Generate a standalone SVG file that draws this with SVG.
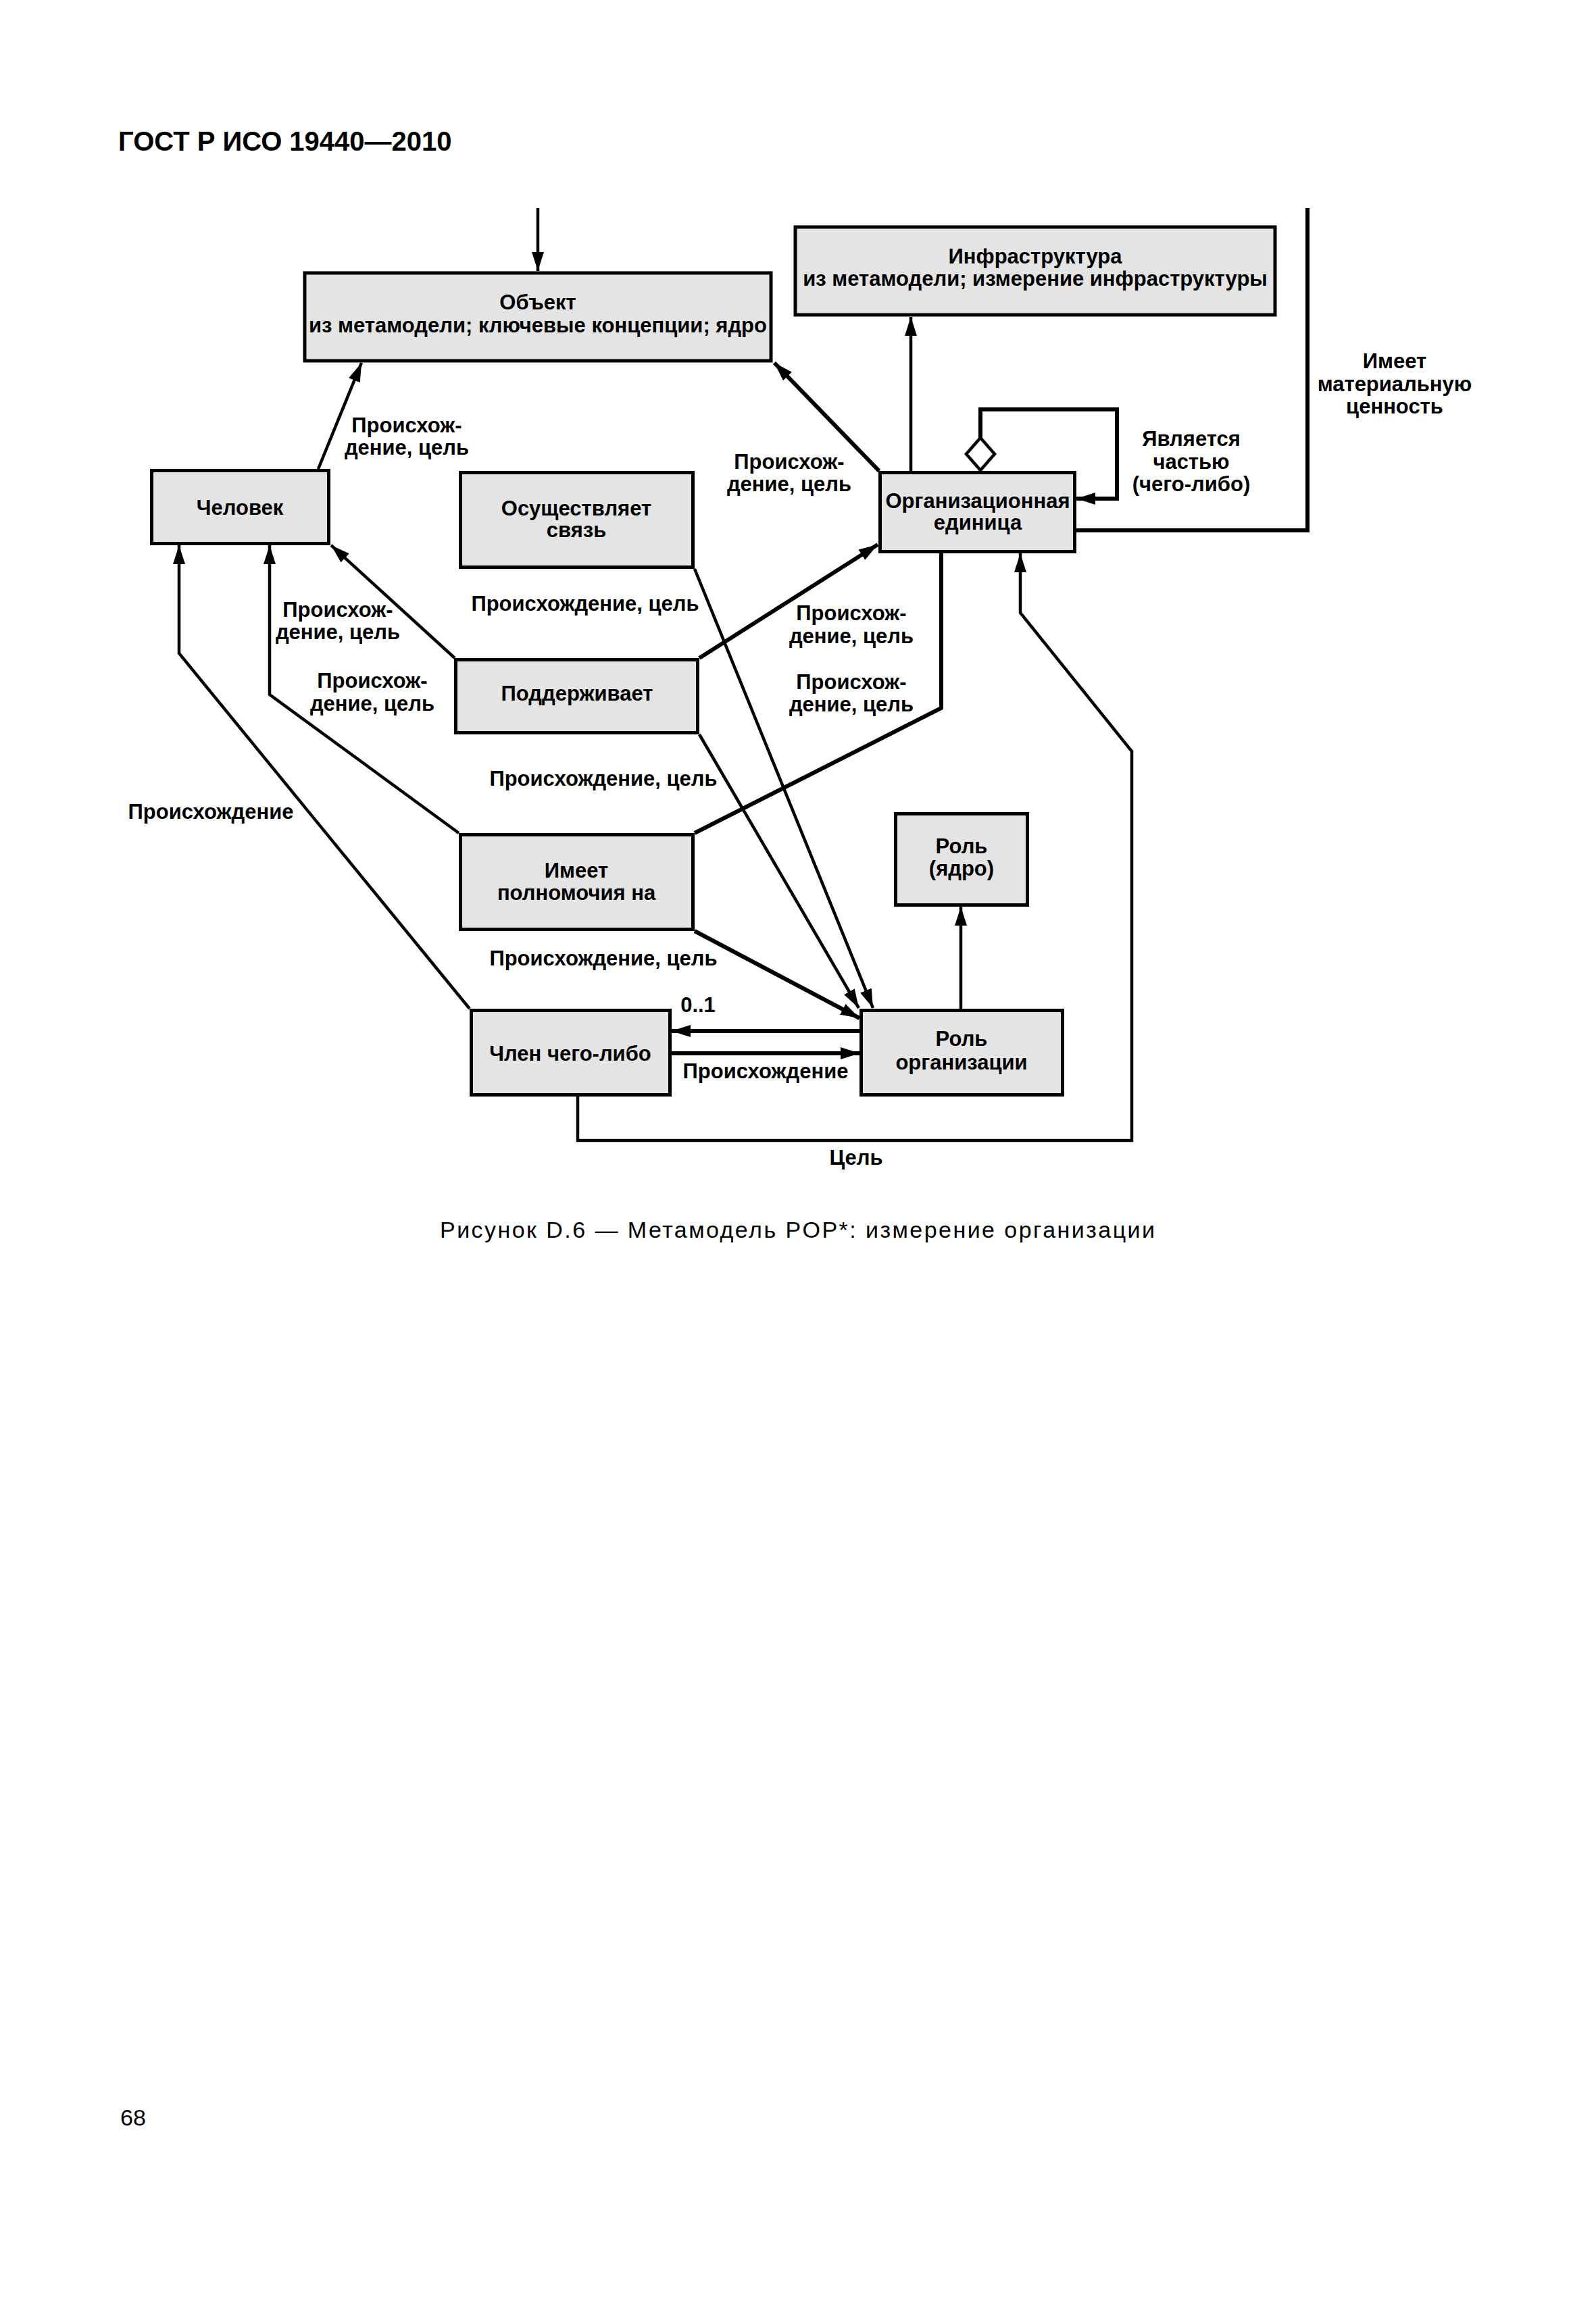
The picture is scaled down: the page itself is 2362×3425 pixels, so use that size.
<svg xmlns="http://www.w3.org/2000/svg" width="2362" height="3425" viewBox="0 0 2362 3425">
<style>
text{font-family:"Liberation Sans",Arial,sans-serif;fill:#000}
.n{fill:#e4e4e4;stroke:#000;stroke-width:5}
.l{font-size:31px;font-weight:bold;text-anchor:middle}
.c{fill:none;stroke:#000;stroke-width:4.5;stroke-linejoin:miter}
.t{fill:none;stroke:#000;stroke-width:6;stroke-linejoin:miter}
.m{marker-end:url(#a)}
</style>
<defs>
<marker id="a" markerUnits="userSpaceOnUse" markerWidth="30" markerHeight="20" viewBox="0 0 30 20" refX="28" refY="10" orient="auto"><path d="M0,1 L28,10 L0,19 Z" fill="#000"/></marker>
</defs>
<rect width="2362" height="3425" fill="#fff"/>
<text x="175" y="223" font-size="40" font-weight="bold" fill="#1a1a1a">ГОСТ Р ИСО 19440—2010</text>

<g id="connectors">
<path class="c m" d="M796,308 L796,401"/>
<path class="c m" d="M471,694 L535,537"/>
<path class="t m" d="M1301,697 L1146,537"/>
<path class="c m" d="M1348,697 L1348,469"/>
<path class="t" d="M1935,308 L1935,785 L1593,785"/>
<path class="t m" d="M1451,648 L1451,606 L1653,606 L1653,738 L1593,738"/>
<polygon points="1451,648 1472,672 1451,696 1430,672" fill="#fff" stroke="#000" stroke-width="4.5"/>
<path class="c m" d="M673,974 L490,807"/>
<path class="c m" d="M695,1493 L265,967 L265,807"/>
<path class="c m" d="M679,1233 L399,1028 L399,807"/>
<path class="t m" d="M1035,974 L1299,806"/>
<path class="c m" d="M1035,1087 L1271,1492"/>
<path class="c m" d="M1028,842 L1292,1492"/>
<path class="t" d="M1028,1233 L1393,1048 L1393,819"/>
<path class="t m" d="M1028,1378 L1272,1507"/>
<path class="c m" d="M855,1623 L855,1688 L1675,1688 L1675,1112 L1510,907 L1510,819"/>
<path class="t m" d="M1272,1526 L994,1526"/>
<path class="t m" d="M994,1559 L1272,1559"/>
<path class="c m" d="M1422,1493 L1422,1342"/>
</g>

<g id="n-object">
<rect class="n" x="451" y="404" width="690" height="130" stroke-width="6"/>
<text class="l" x="796" y="458">Объект</text>
<text class="l" x="796" y="492">из метамодели; ключевые концепции; ядро</text>
</g>
<g id="n-infra">
<rect class="n" x="1177" y="336" width="710" height="130" stroke-width="6"/>
<text class="l" x="1532" y="390">Инфраструктура</text>
<text class="l" x="1532" y="423">из метамодели; измерение инфраструктуры</text>
</g>
<g id="n-person">
<rect class="n" x="224.5" y="696.5" width="262" height="108"/>
<text class="l" x="355" y="762">Человек</text>
</g>
<g id="n-communicates">
<rect class="n" x="681.5" y="699.5" width="344" height="140"/>
<text class="l" x="853" y="763">Осуществляет</text>
<text class="l" x="853" y="795">связь</text>
</g>
<g id="n-orgunit">
<rect class="n" x="1302.5" y="699.5" width="288" height="117"/>
<text class="l" x="1447" y="752">Организационная</text>
<text class="l" x="1447" y="784">единица</text>
</g>
<g id="n-supports">
<rect class="n" x="674.5" y="976.5" width="358" height="108"/>
<text class="l" x="854" y="1037">Поддерживает</text>
</g>
<g id="n-authority">
<rect class="n" x="681.5" y="1235.5" width="344" height="140"/>
<text class="l" x="853" y="1299">Имеет</text>
<text class="l" x="853" y="1332">полномочия на</text>
</g>
<g id="n-role-core">
<rect class="n" x="1325.5" y="1204.5" width="195" height="135"/>
<text class="l" x="1423" y="1263">Роль</text>
<text class="l" x="1423" y="1296">(ядро)</text>
</g>
<g id="n-member">
<rect class="n" x="697.5" y="1495.5" width="294" height="125"/>
<text class="l" x="844" y="1570">Член чего-либо</text>
</g>
<g id="n-org-role">
<rect class="n" x="1274.5" y="1495.5" width="298" height="125"/>
<text class="l" x="1423" y="1548">Роль</text>
<text class="l" x="1423" y="1583">организации</text>
</g>

<g id="labels">
<text class="l" x="602" y="640">Происхож-</text>
<text class="l" x="602" y="673">дение, цель</text>
<text class="l" x="1168" y="694">Происхож-</text>
<text class="l" x="1168" y="727">дение, цель</text>
<text class="l" x="2064" y="545">Имеет</text>
<text class="l" x="2064" y="579">материальную</text>
<text class="l" x="2064" y="612">ценность</text>
<text class="l" x="1763" y="660">Является</text>
<text class="l" x="1763" y="694">частью</text>
<text class="l" x="1763" y="727">(чего-либо)</text>
<text class="l" x="866" y="904">Происхождение, цель</text>
<text class="l" x="500" y="913">Происхож-</text>
<text class="l" x="500" y="946">дение, цель</text>
<text class="l" x="551" y="1018">Происхож-</text>
<text class="l" x="551" y="1052">дение, цель</text>
<text class="l" x="1260" y="918">Происхож-</text>
<text class="l" x="1260" y="952">дение, цель</text>
<text class="l" x="1260" y="1020">Происхож-</text>
<text class="l" x="1260" y="1053">дение, цель</text>
<text class="l" x="893" y="1163">Происхождение, цель</text>
<text class="l" x="312" y="1212">Происхождение</text>
<text class="l" x="893" y="1429">Происхождение, цель</text>
<text class="l" x="1033" y="1498">0..1</text>
<text class="l" x="1133" y="1596">Происхождение</text>
<text class="l" x="1267" y="1724">Цель</text>
</g>

<text x="651" y="1832" font-size="34" fill="#222" textLength="1058" lengthAdjust="spacing">Рисунок  D.6 — Метамодель POP*: измерение организации</text>
<text x="178" y="3146" font-size="34" fill="#222">68</text>
</svg>
